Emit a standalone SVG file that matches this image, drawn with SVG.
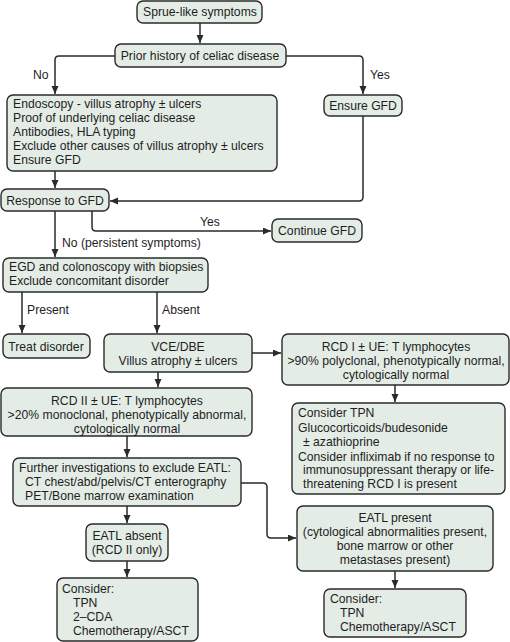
<svg xmlns="http://www.w3.org/2000/svg" width="510" height="642" viewBox="0 0 510 642">
<defs>
<style>
.b{fill:#e4ece6;stroke:#2a2a2a;stroke-width:1.4}
.t{font-family:"Liberation Sans",Arial,sans-serif;font-size:12.2px;fill:#1e1e1e}
.c{text-anchor:middle}
.l{fill:none;stroke:#2a2a2a;stroke-width:1.5}
</style>
<marker id="a" markerUnits="userSpaceOnUse" markerWidth="9" markerHeight="8" refX="8" refY="3.5" orient="auto">
<path d="M0,0 L8,3.5 L0,7 z" fill="#2a2a2a"/>
</marker>
</defs>
<rect width="510" height="642" fill="#ffffff"/>
<g id="connectors">
<path class="l" marker-end="url(#a)" d="M200,23 V43"/>
<path class="l" marker-end="url(#a)" d="M115,56 H59 Q55,56 55,60 V94"/>
<path class="l" marker-end="url(#a)" d="M286,56 H359 Q363,56 363,60 V94"/>
<path class="l" marker-end="url(#a)" d="M55,171 V188"/>
<path class="l" marker-end="url(#a)" d="M363,116 V197 Q363,201 359,201 H110"/>
<path class="l" marker-end="url(#a)" d="M92,211 V227 Q92,231 96,231 H271"/>
<path class="l" marker-end="url(#a)" d="M55,211 V257"/>
<path class="l" marker-end="url(#a)" d="M22,292 V333"/>
<path class="l" marker-end="url(#a)" d="M157,292 V333"/>
<path class="l" marker-end="url(#a)" d="M252,353 H281"/>
<path class="l" marker-end="url(#a)" d="M395,385 V402"/>
<path class="l" marker-end="url(#a)" d="M158,372 V387"/>
<path class="l" marker-end="url(#a)" d="M127,436 V457"/>
<path class="l" marker-end="url(#a)" d="M241,483 H263 Q267,483 267,487 V534 Q267,538 271,538 H296"/>
<path class="l" marker-end="url(#a)" d="M127,506 V523"/>
<path class="l" marker-end="url(#a)" d="M127,561 V577"/>
<path class="l" marker-end="url(#a)" d="M395,571 V588"/>
<text class="t" x="33" y="79">No</text>
<text class="t" x="370" y="79">Yes</text>
<text class="t" x="200" y="226">Yes</text>
<text class="t" x="62" y="247">No (persistent symptoms)</text>
<text class="t" x="27" y="314">Present</text>
<text class="t" x="162" y="314">Absent</text>
</g>
<g id="n1"><rect class="b" x="137" y="1" width="125" height="22" rx="6"/><text class="t c" x="200" y="16">Sprue-like symptoms</text></g>
<g id="n2"><rect class="b" x="115" y="44" width="171" height="23" rx="6"/><text class="t c" x="200" y="60">Prior history of celiac disease</text></g>
<g id="n3"><rect class="b" x="7" y="95" width="270" height="76" rx="6"/>
<text class="t" x="13" y="108">Endoscopy - villus atrophy ± ulcers</text>
<text class="t" x="13" y="122">Proof of underlying celiac disease</text>
<text class="t" x="13" y="136">Antibodies, HLA typing</text>
<text class="t" x="13" y="150">Exclude other causes of villus atrophy ± ulcers</text>
<text class="t" x="13" y="164">Ensure GFD</text></g>
<g id="n4"><rect class="b" x="324" y="95" width="78" height="21" rx="6"/><text class="t c" x="363" y="110">Ensure GFD</text></g>
<g id="n5"><rect class="b" x="1" y="189" width="108" height="22" rx="6"/><text class="t c" x="55" y="205">Response to GFD</text></g>
<g id="n6"><rect class="b" x="272" y="219" width="90" height="23" rx="6"/><text class="t c" x="317" y="235">Continue GFD</text></g>
<g id="n7"><rect class="b" x="3" y="258" width="205" height="34" rx="6"/>
<text class="t" x="9" y="271">EGD and colonoscopy with biopsies</text>
<text class="t" x="9" y="285">Exclude concomitant disorder</text></g>
<g id="n8"><rect class="b" x="3" y="334" width="87" height="24" rx="6"/><text class="t c" x="46" y="351">Treat disorder</text></g>
<g id="n9"><rect class="b" x="104" y="334" width="148" height="38" rx="6"/>
<text class="t c" x="178" y="351">VCE/DBE</text>
<text class="t c" x="178" y="365">Villus atrophy ± ulcers</text></g>
<g id="n10"><rect class="b" x="282" y="334" width="227" height="51" rx="6"/>
<text class="t c" x="396" y="351">RCD I ± UE: T lymphocytes</text>
<text class="t c" x="396" y="365">&gt;90% polyclonal, phenotypically normal,</text>
<text class="t c" x="396" y="379">cytologically normal</text></g>
<g id="n11"><rect class="b" x="1" y="388" width="251" height="48" rx="6"/>
<text class="t c" x="127" y="405">RCD II ± UE: T lymphocytes</text>
<text class="t c" x="127" y="419">&gt;20% monoclonal, phenotypically abnormal,</text>
<text class="t c" x="127" y="433">cytologically normal</text></g>
<g id="n12"><rect class="b" x="292" y="403" width="213" height="91" rx="6"/>
<text class="t" x="298" y="417">Consider TPN</text>
<text class="t" x="298" y="432">Glucocorticoids/budesonide</text>
<text class="t" x="303" y="446">± azathioprine</text>
<text class="t" x="298" y="461">Consider infliximab if no response to</text>
<text class="t" x="303" y="474">immunosuppressant therapy or life-</text>
<text class="t" x="303" y="488">threatening RCD I is present</text></g>
<g id="n13"><rect class="b" x="13" y="458" width="228" height="48" rx="6"/>
<text class="t" x="19" y="472">Further investigations to exclude EATL:</text>
<text class="t" x="25" y="486">CT chest/abd/pelvis/CT enterography</text>
<text class="t" x="25" y="500">PET/Bone marrow examination</text></g>
<g id="n14"><rect class="b" x="86" y="524" width="82" height="37" rx="6"/>
<text class="t c" x="127" y="540">EATL absent</text>
<text class="t c" x="127" y="554">(RCD II only)</text></g>
<g id="n15"><rect class="b" x="297" y="506" width="196" height="65" rx="6"/>
<text class="t c" x="395" y="522">EATL present</text>
<text class="t c" x="395" y="536">(cytological abnormalities present,</text>
<text class="t c" x="395" y="550">bone marrow or other</text>
<text class="t c" x="395" y="564">metastases present)</text></g>
<g id="n16"><rect class="b" x="57" y="578" width="141" height="63" rx="6"/>
<text class="t" x="62" y="593">Consider:</text>
<text class="t" x="73" y="607">TPN</text>
<text class="t" x="73" y="621">2–CDA</text>
<text class="t" x="73" y="635">Chemotherapy/ASCT</text></g>
<g id="n17"><rect class="b" x="324" y="589" width="142" height="48" rx="6"/>
<text class="t" x="330" y="603">Consider:</text>
<text class="t" x="340" y="617">TPN</text>
<text class="t" x="340" y="631">Chemotherapy/ASCT</text></g>
</svg>
